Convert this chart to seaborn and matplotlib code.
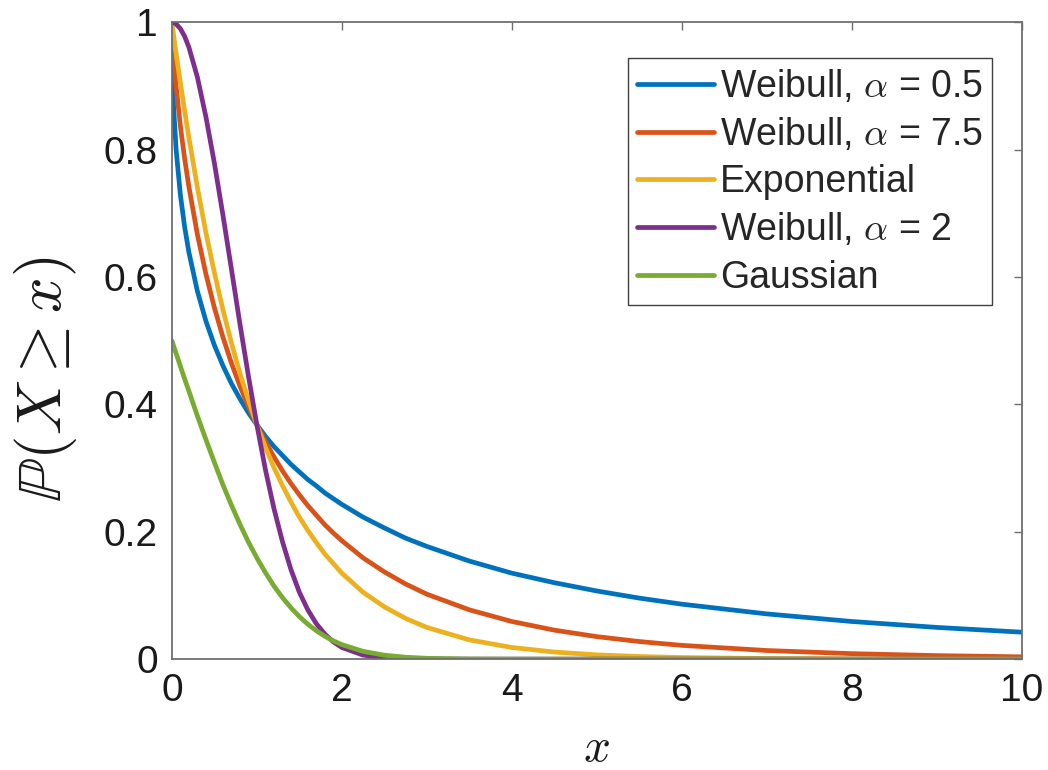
import numpy as np
import pandas as pd
import matplotlib
matplotlib.use("Agg")
import matplotlib.pyplot as plt
import seaborn as sns

x_vals = [0, 0.02, 0.05, 0.1, 0.15, 0.2, 0.3, 0.4, 0.5, 0.6, 0.7, 0.8, 0.9, 1.0,
          1.1, 1.2, 1.3, 1.4, 1.5, 1.6, 1.7, 1.8, 1.9, 2.0, 2.25, 2.5, 2.75, 3.0,
          3.5, 4, 4.5, 5, 5.5, 6, 7, 8, 9, 10]

weibull_05 = [1.0, 0.868, 0.800, 0.729, 0.679, 0.639, 0.578, 0.531, 0.493, 0.461,
              0.433, 0.409, 0.387, 0.368, 0.350, 0.334, 0.320, 0.306, 0.294, 0.282,
              0.272, 0.261, 0.252, 0.243, 0.223, 0.206, 0.190, 0.177, 0.154, 0.135,
              0.120, 0.107, 0.0958, 0.0863, 0.0710, 0.0591, 0.0498, 0.0423]

weibull_75 = [1.0, 0.948, 0.900, 0.837, 0.786, 0.742, 0.667, 0.605, 0.552, 0.506,
              0.465, 0.429, 0.397, 0.368, 0.342, 0.318, 0.296, 0.276, 0.258, 0.241,
              0.226, 0.211, 0.198, 0.186, 0.159, 0.137, 0.118, 0.102, 0.0774, 0.0591,
              0.0455, 0.0353, 0.0276, 0.0216, 0.0135, 0.0086, 0.0055, 0.0036]

exponential = [1.0, 0.980, 0.951, 0.905, 0.861, 0.819, 0.741, 0.670, 0.607, 0.549,
               0.497, 0.449, 0.407, 0.368, 0.333, 0.301, 0.273, 0.247, 0.223, 0.202,
               0.183, 0.165, 0.150, 0.135, 0.105, 0.0821, 0.0639, 0.0498, 0.0302, 0.0183,
               0.0111, 0.0067, 0.0041, 0.0025, 0.0009, 0.0003, 0.0001, 0.0]

weibull_2 = [1.0, 0.9996, 0.9975, 0.990, 0.978, 0.961, 0.914, 0.852, 0.779, 0.698,
             0.613, 0.527, 0.445, 0.368, 0.298, 0.237, 0.185, 0.141, 0.105, 0.0773,
             0.0556, 0.0392, 0.0271, 0.0183, 0.0063, 0.0019, 0.0005, 0.0001, 0.0, 0.0,
             0.0, 0.0, 0.0, 0.0, 0.0, 0.0, 0.0, 0.0]

gaussian = [0.5, 0.492, 0.480, 0.460, 0.440, 0.421, 0.382, 0.345, 0.309, 0.274,
            0.242, 0.212, 0.184, 0.159, 0.136, 0.115, 0.0968, 0.0808, 0.0668, 0.0548,
            0.0446, 0.0359, 0.0287, 0.0228, 0.0122, 0.0062, 0.0030, 0.0013, 0.0002, 0.0,
            0.0, 0.0, 0.0, 0.0, 0.0, 0.0, 0.0, 0.0]

labels = [r"Weibull, $\alpha$ = 0.5", r"Weibull, $\alpha$ = 7.5", "Exponential",
          r"Weibull, $\alpha$ = 2", "Gaussian"]
series = [weibull_05, weibull_75, exponential, weibull_2, gaussian]
colors = ["#0072BD", "#D95319", "#EDB120", "#7E2F8E", "#77AC30"]

x_ticks = [0, 2, 4, 6, 8, 10]
y_ticks = [0, 0.2, 0.4, 0.6, 0.8, 1]
y_tick_labels = ["0", "0.2", "0.4", "0.6", "0.8", "1"]

frames = []
for lab, vals in zip(labels, series):
    frames.append(pd.DataFrame({"x": x_vals, "p": vals, "dist": lab}))
df = pd.concat(frames, ignore_index=True)

sns.set_style("white")
plt.rcParams["font.family"] = ["Liberation Sans", "DejaVu Sans"]
plt.rcParams["mathtext.fontset"] = "cm"

fig = plt.figure(figsize=(10.48, 7.7), dpi=100)
ax = fig.add_axes([0.164, 0.144, 0.811, 0.827])

sns.lineplot(data=df, x="x", y="p", hue="dist", hue_order=labels,
             palette=colors, estimator=None, sort=False, linewidth=3.4, ax=ax)

ax.set_xlim(0, 10)
ax.set_ylim(0, 1)
ax.set_xticks(x_ticks)
ax.set_xticklabels([str(t) for t in x_ticks])
ax.set_yticks(y_ticks)
ax.set_yticklabels(y_tick_labels)

axcol = "#6f6f6f"
for sp in ax.spines.values():
    sp.set_visible(True)
    sp.set_color(axcol)
    sp.set_linewidth(1.3)
ax.tick_params(direction="in", length=6, width=1.0, colors=axcol,
               top=True, right=True, labelsize=28, labelcolor="#1a1a1a", pad=10)

ax.set_xlabel(r"$x$", fontsize=34, color="#1a1a1a", labelpad=13)
ax.set_ylabel(r"$\mathbb{P}(X \geq x)$", fontsize=45, color="#1a1a1a")
ax.yaxis.set_label_coords(-0.109, 0.44)

leg = ax.legend(loc="upper right", bbox_to_anchor=(0.965, 0.9435), borderaxespad=0,
                fontsize=27, frameon=True, fancybox=False, framealpha=1,
                edgecolor="#404040", handlelength=2.05, handletextpad=0.15,
                labelspacing=0.3, borderpad=0.25, title=None)
leg.get_frame().set_linewidth(1.0)
for line in leg.get_lines():
    line.set_linewidth(3.4)

fig.savefig("out.png", dpi=100, facecolor="white")
